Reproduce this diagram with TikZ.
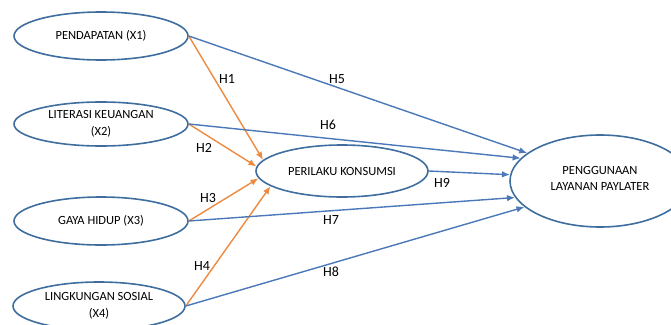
\documentclass[tikz,border=0pt]{standalone}
\usepackage{fontspec}
\setmainfont{Carlito}
\usetikzlibrary{shapes, arrows.meta, positioning}
\definecolor{ovalblue}{HTML}{3F6E9E}
\definecolor{lineblue}{HTML}{4A78B8}
\definecolor{lineorange}{HTML}{ED8A3F}

\begin{document}
\begin{tikzpicture}[>={Latex[length=8pt,width=6.5pt]}, x=1pt, y=-1pt, font=\fontsize{12.5}{16.5}\selectfont,
  var/.style={ellipse, draw=ovalblue, line width=1.6pt, inner sep=0pt, align=center},
  direct/.style={->, draw=lineblue, line width=1.4pt},
  via/.style={->, draw=lineorange, line width=1.4pt},
  hyp/.style={font=\fontsize{14}{16}\selectfont, inner sep=0pt}]
\useasboundingbox (0,0) rectangle (671,324);
%
\node[var, minimum width=174pt, minimum height=48pt] (x1) at (101,36) {PENDAPATAN (X1)};
\node[var, minimum width=174pt, minimum height=44pt] (x2) at (101,124) {LITERASI KEUANGAN\\(X2)};
\node[var, minimum width=174pt, minimum height=48pt] (x3) at (101,221) {GAYA HIDUP (X3)};
\node[var, minimum width=172pt, minimum height=48pt] (x4) at (99,306) {LINGKUNGAN SOSIAL\\(X4)};
\node[var, minimum width=172pt, minimum height=52pt] (pk) at (342,171) {PERILAKU KONSUMSI};
\node[var, minimum width=180pt, minimum height=92pt] (plp) at (600,181) {\raisebox{5pt}{PENGGUNAAN}\\\raisebox{5pt}{LAYANAN PAYLATER}};
%
\draw[via] (x1.east) -- (pk.172);
\draw[via] (x2.east) -- (pk.177);
\draw[via] (x3.east) -- (pk.185);
\draw[via] (x4.east) -- (pk.192);
%
\draw[direct] (x1.east) -- (plp.159);
\draw[direct] (x2.east) -- (plp.164);
\draw[direct] (pk.east) -- (plp.176);
\draw[direct] (x3.east) -- (plp.191);
\draw[direct] (x4.east) -- (plp.199);
%
\node[hyp] (h1) at (227,79) {H1};
\node[hyp] (h2) at (204,148) {H2};
\node[hyp] (h3) at (208,198) {H3};
\node[hyp] (h4) at (202,266) {H4};
\node[hyp] (h5) at (337,79) {H5};
\node[hyp] (h6) at (328,125) {H6};
\node[hyp] (h7) at (331,220) {H7};
\node[hyp] (h8) at (331,272) {H8};
\node[hyp] (h9) at (442,183) {H9};
\end{tikzpicture}
\end{document}
